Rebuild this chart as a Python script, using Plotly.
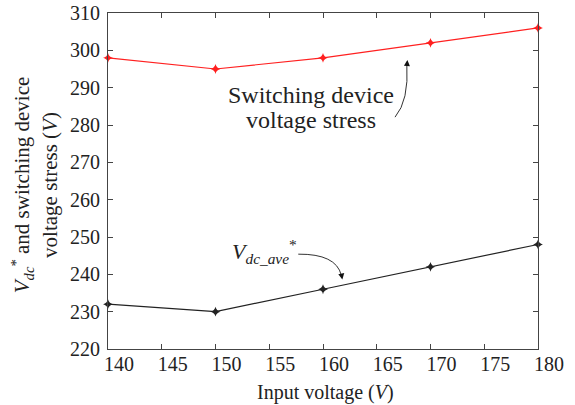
import plotly.graph_objects as go

input_voltage = [140, 150, 160, 170, 180]
switch_stress = [298, 295, 298, 302, 306]
vdc_ave = [232, 230, 236, 242, 248]
x_ticks = [140, 145, 150, 155, 160, 165, 170, 175, 180]
y_ticks = [220, 230, 240, 250, 260, 270, 280, 290, 300, 310]

FONT = "Liberation Serif"
TXT = "#222"

fig = go.Figure()
fig.add_trace(go.Scatter(x=input_voltage, y=switch_stress, mode="lines+markers",
                         line=dict(color="#ff2020", width=1.2),
                         marker=dict(symbol="star-diamond", size=7, color="#ff2020"),
                         cliponaxis=False, showlegend=False))
fig.add_trace(go.Scatter(x=input_voltage, y=vdc_ave, mode="lines+markers",
                         line=dict(color="#222222", width=1.2),
                         marker=dict(symbol="star-diamond", size=7, color="#222222"),
                         cliponaxis=False, showlegend=False))

axis_common = dict(showgrid=False, zeroline=False, showline=True, linecolor="#444",
                   linewidth=1.2, mirror="ticks", ticks="inside", ticklen=5,
                   tickcolor="#444", automargin=False, ticklabeloverflow="allow",
                   tickfont=dict(family=FONT, size=20, color=TXT))

fig.update_xaxes(range=[140, 180], tickvals=x_ticks, ticklabelshift=11,
                 ticklabelstandoff=-3, **axis_common)
fig.update_yaxes(range=[220, 310], tickvals=y_ticks, ticklabelstandoff=3,
                 **axis_common)

# axis titles
fig.add_annotation(x=0.505, y=-0.13, xref="paper", yref="paper", showarrow=False,
                   xanchor="center", yanchor="middle",
                   text="Input voltage (<i>V</i>)", font=dict(family=FONT, size=20, color=TXT))
fig.add_annotation(x=-0.17, y=0.49, xref="paper", yref="paper", showarrow=False, textangle=-90,
                   xanchor="center", yanchor="middle",
                   text="<i>V<sub>dc</sub></i><sup>*</sup> and switching device<br>voltage stress (<i>V</i>)",
                   font=dict(family=FONT, size=21, color=TXT), align="center")

# curved arrow paths
fig.add_shape(type="path", xref="x", yref="y",
              path="M 166.7,282.1 Q 168.0,286.5 167.8,296.2",
              line=dict(color="#333", width=1))
fig.add_shape(type="path", xref="x", yref="y",
              path="M 157.7,245.4 Q 161.2,245.5 161.7,239.8",
              line=dict(color="#333", width=1))
# arrowheads
fig.add_annotation(x=167.85, y=297.4, ax=167.8, ay=295.5, xref="x", yref="y", axref="x", ayref="y",
                   text="", showarrow=True, arrowhead=2, arrowsize=1.2, arrowwidth=1, arrowcolor="#111")
fig.add_annotation(x=161.8, y=238.6, ax=161.7, ay=240.2, xref="x", yref="y", axref="x", ayref="y",
                   text="", showarrow=True, arrowhead=2, arrowsize=1.2, arrowwidth=1, arrowcolor="#111")

fig.add_annotation(x=158.9, y=288.0, xref="x", yref="y", showarrow=False,
                   text="Switching device",
                   font=dict(family=FONT, size=24, color=TXT))
fig.add_annotation(x=158.9, y=281.4, xref="x", yref="y", showarrow=False,
                   text="voltage stress",
                   font=dict(family=FONT, size=24, color=TXT))
fig.add_annotation(x=154.6, y=246.0, xref="x", yref="y", showarrow=False,
                   text="<i>V<sub>dc_ave</sub></i><sup>*</sup>",
                   font=dict(family=FONT, size=22, color=TXT))

fig.update_layout(width=575, height=405, margin=dict(l=108, r=37, t=13, b=56),
                  font=dict(family=FONT, color=TXT),
                  plot_bgcolor="white", paper_bgcolor="white")
fig.write_html("out.html", config={"displayModeBar": False},
               post_script="document.body.style.margin='0';")
